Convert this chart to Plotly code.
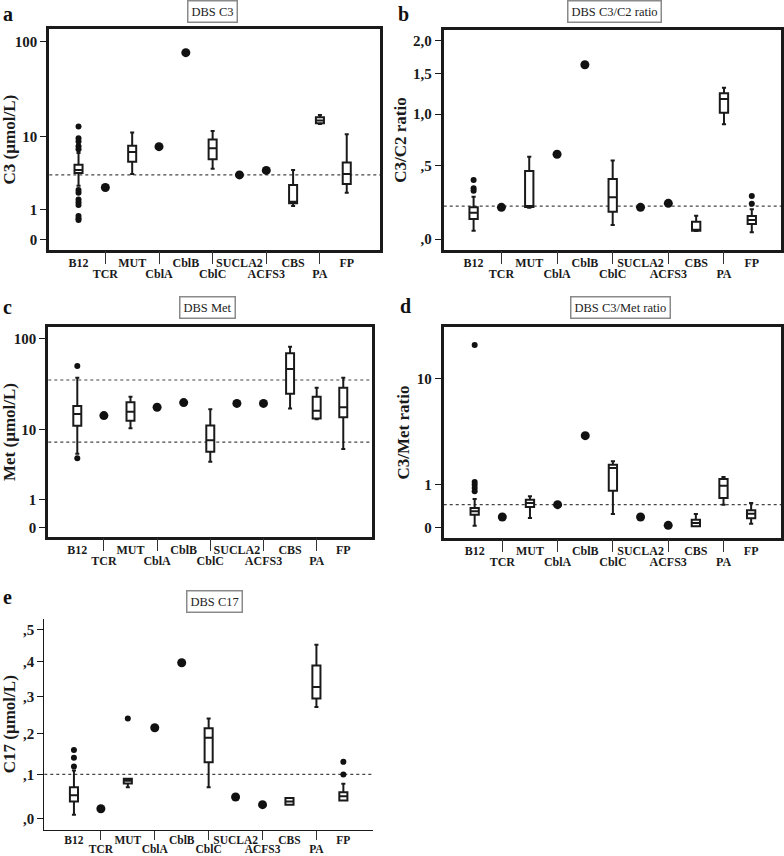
import numpy as np
import plotly.graph_objects as go

# ---------------- data ----------------
categories = ["B12", "TCR", "MUT", "CblA", "CblB", "CblC", "SUCLA2", "ACFS3", "CBS", "PA", "FP"]
box_groups = ["B12", "MUT", "CblC", "CBS", "PA", "FP"]

# a: DBS C3 (umol/L)
c3_low = [2.5, 3.6, 4.2, 1.18, 13.8, 1.97]
c3_q1 = [3.7, 5.1, 5.5, 1.32, 14.0, 2.64]
c3_med = [4.05, 6.7, 7.4, 1.41, 15.0, 3.6]
c3_q3 = [4.7, 7.9, 9.3, 2.56, 16.3, 5.0]
c3_high = [6.5, 11.1, 11.5, 4.05, 17.2, 10.6]
c3_pt_cat = ["B12"] * 13 + ["TCR", "CblA", "CblB", "SUCLA2", "ACFS3"]
c3_pt_val = [12.9, 9.6, 8.8, 7.8, 7.2, 2.16, 1.97, 1.54, 1.37, 1.23, 0.72, 0.63, 0.57,
             2.35, 7.7, 77.0, 3.5, 4.0]
c3_cutoff = [3.5]
c3_ticks = [0, 1, 10, 100]
c3_ticktext = ["0", "1", "10", "100"]

# b: DBS C3/C2 ratio
c3c2_low = [0.047, 0.19, 0.081, 0.045, 0.889, 0.038]
c3c2_q1 = [0.117, 0.195, 0.164, 0.047, 1.016, 0.087]
c3c2_med = [0.157, 0.2, 0.26, 0.05, 1.175, 0.111]
c3c2_q3 = [0.192, 0.458, 0.395, 0.101, 1.244, 0.136]
c3c2_high = [0.265, 0.579, 0.545, 0.138, 1.316, 0.179]
c3c2_pt_cat = ["B12", "B12", "B12", "TCR", "CblA", "CblB", "SUCLA2", "ACFS3", "FP", "FP"]
c3c2_pt_val = [0.387, 0.325, 0.307, 0.192, 0.60, 1.63, 0.192, 0.219, 0.269, 0.216]
c3c2_cutoff = [0.2]
c3c2_ticks = [0, 0.5, 1.0, 1.5, 2.0]
c3c2_ticktext = [",0", ",5", "1,0", "1,5", "2,0"]

# c: DBS Met (umol/L)
met_low = [5.1, 10.35, 4.0, 17.4, 13.2, 5.85]
met_q1 = [11.1, 12.7, 5.4, 25.5, 13.4, 13.9]
met_med = [15.1, 16.0, 7.5, 47.5, 16.5, 18.0]
met_q3 = [18.6, 20.5, 11.2, 70.0, 23.6, 29.7]
met_high = [38.2, 23.6, 17.1, 82.7, 29.7, 38.2]
met_pt_cat = ["B12", "B12", "TCR", "CblA", "CblB", "SUCLA2", "ACFS3"]
met_pt_val = [51.0, 4.45, 14.5, 18.0, 20.3, 19.9, 19.9]
met_cutoff = [7.1, 36.0]
met_ticks = [0, 1, 10, 100]
met_ticktext = ["0", "1", "10", "100"]

# d: DBS C3/Met ratio
c3met_low = [0.027, 0.162, 0.24, 0.016, 0.441, 0.061]
c3met_q1 = [0.227, 0.388, 0.806, 0.016, 0.606, 0.156]
c3met_med = [0.294, 0.48, 1.604, 0.072, 0.958, 0.247]
c3met_q3 = [0.366, 0.563, 1.748, 0.132, 1.181, 0.316]
c3met_high = [0.58, 0.649, 1.9, 0.24, 1.253, 0.48]
c3met_pt_cat = ["B12"] * 5 + ["TCR", "CblA", "CblB", "SUCLA2", "ACFS3"]
c3met_pt_val = [17.9, 1.08, 0.99, 0.887, 0.788, 0.181, 0.441, 3.385, 0.181, 0.033]
c3met_cutoff = [0.44]
c3met_ticks = [0, 1, 10]
c3met_ticktext = ["0", "1", "10"]

# e: DBS C17 (umol/L)
c17_low = [0.009, 0.07, 0.07, 0.031, 0.271, 0.04]
c17_q1 = [0.038, 0.079, 0.129, 0.031, 0.294, 0.04]
c17_med = [0.052, 0.085, 0.19, 0.038, 0.3265, 0.0495]
c17_q3 = [0.070, 0.0897, 0.214, 0.046, 0.389, 0.0585]
c17_high = [0.109, 0.0897, 0.24, 0.046, 0.452, 0.078]
c17_pt_cat = ["B12", "B12", "B12", "TCR", "MUT", "CblA", "CblB", "SUCLA2", "ACFS3", "FP", "FP"]
c17_pt_val = [0.159, 0.14, 0.119, 0.022, 0.24, 0.2155, 0.397, 0.048, 0.031, 0.13, 0.1]
c17_cutoff = [0.1]
c17_ticks = [0, 0.1, 0.2, 0.3, 0.4, 0.5]
c17_ticktext = [",0", ",1", ",2", ",3", ",4", ",5"]

titles = ["DBS C3", "DBS C3/C2 ratio", "DBS Met", "DBS C3/Met ratio", "DBS C17"]
ytitles = ["C3 (µmol/L)", "C3/C2 ratio", "Met (µmol/L)", "C3/Met ratio", "C17 (µmol/L)"]
letters = ["a", "b", "c", "d", "e"]

# ---------------- layout geometry (pixels) ----------------
W, H = 784, 856
FONT = "Liberation Serif"


def tr(v):
    """SPSS-like log10(x+1) axis transform."""
    return np.log10(np.asarray(v, dtype=float) + 1.0)


panels = [
    dict(low=c3_low, q1=c3_q1, med=c3_med, q3=c3_q3, high=c3_high, pc=c3_pt_cat, pv=c3_pt_val,
         cut=c3_cutoff, ticks=c3_ticks, tt=c3_ticktext,
         px=(49.3, 380), py=(29.3, 250), xr=(-1.09, 11.24), yr=(-0.108, 2.129), frame=True,
         title_c=(212, 11.5), letter_c=(8, 14), tlen=13, xfs=12),
    dict(low=c3c2_low, q1=c3c2_q1, med=c3c2_med, q3=c3c2_q3, high=c3c2_high, pc=c3c2_pt_cat, pv=c3c2_pt_val,
         cut=c3c2_cutoff, ticks=c3c2_ticks, tt=c3c2_ticktext,
         px=(443.7, 781), py=(30, 250), xr=(-1.075, 11.05), yr=(-0.0265, 0.5036), frame=True,
         title_c=(614, 12), letter_c=(404, 14), tlen=13, xfs=12),
    dict(low=met_low, q1=met_q1, med=met_med, q3=met_q3, high=met_high, pc=met_pt_cat, pv=met_pt_val,
         cut=met_cutoff, ticks=met_ticks, tt=met_ticktext,
         px=(48.3, 372), py=(327.3, 536.7), xr=(-1.09, 11.08), yr=(-0.0956, 2.128), frame=True,
         title_c=(207.5, 307.5), letter_c=(7, 307), tlen=13, xfs=12),
    dict(low=c3met_low, q1=c3met_q1, med=c3met_med, q3=c3met_q3, high=c3met_high, pc=c3met_pt_cat,
         pv=c3met_pt_val, cut=c3met_cutoff, ticks=c3met_ticks, tt=c3met_ticktext,
         px=(443.7, 781), py=(327, 538), xr=(-1.12, 11.08), yr=(-0.0747, 1.403), frame=True,
         title_c=(620, 307.5), letter_c=(405, 306), tlen=13, xfs=12),
    dict(low=c17_low, q1=c17_q1, med=c17_med, q3=c17_q3, high=c17_high, pc=c17_pt_cat, pv=c17_pt_val,
         cut=c17_cutoff, ticks=c17_ticks, tt=c17_ticktext,
         px=(44.3, 373), py=(619, 829.5), xr=(-1.10, 11.1), yr=(-0.00987, 0.1859), frame=False,
         title_c=(214.5, 601), letter_c=(7, 597), tlen=9, xfs=11.5),
]

pos = {c: i for i, c in enumerate(categories)}
upper_idx = [i for i in range(len(categories)) if i % 2 == 0]
lower_idx = [i for i in range(len(categories)) if i % 2 == 1]

fig = go.Figure()
layout = dict(
    template="none",
    width=W, height=H, margin=dict(l=0, r=0, t=0, b=0, autoexpand=False),
    paper_bgcolor="white", plot_bgcolor="white", showlegend=False,
    font=dict(family=FONT, color="black"),
)
annotations = []
shapes = []

for k, p in enumerate(panels):
    xa_main = 2 * k + 1
    xa_sec = 2 * k + 2
    ya = k + 1
    xref = "x" if xa_main == 1 else f"x{xa_main}"
    xref2 = f"x{xa_sec}"
    yref = "y" if ya == 1 else f"y{ya}"

    bx = [pos[c] for c in box_groups]
    fig.add_trace(go.Box(
        x=bx, q1=tr(p["q1"]), median=tr(p["med"]), q3=tr(p["q3"]),
        lowerfence=tr(p["low"]), upperfence=tr(p["high"]),
        width=0.3, whiskerwidth=0.5, fillcolor="white",
        line=dict(color="#1a1a1a", width=2), boxpoints=False,
        xaxis=xref, yaxis=yref, hoverinfo="skip",
    ))
    sizes = [6 if c in box_groups else 9 for c in p["pc"]]
    fig.add_trace(go.Scatter(
        x=[pos[c] for c in p["pc"]], y=tr(p["pv"]), mode="markers",
        marker=dict(color="#111111", size=sizes, opacity=1, line=dict(width=0)),
        xaxis=xref, yaxis=yref, hoverinfo="skip",
    ))
    # invisible carrier trace so the second (staggered-label) x axis is drawn
    fig.add_trace(go.Scatter(
        x=lower_idx, y=[None] * len(lower_idx), mode="markers",
        marker=dict(opacity=0), xaxis=xref2, yaxis=yref, hoverinfo="skip",
    ))
    for cv in p["cut"]:
        shapes.append(dict(type="line", xref=f"{xref} domain", yref=yref, x0=0, x1=1,
                           y0=float(tr(cv)), y1=float(tr(cv)),
                           line=dict(color="#444444", width=1.2, dash="dot"), layer="below"))

    xd = [p["px"][0] / W, p["px"][1] / W]
    yd = [1 - p["py"][1] / H, 1 - p["py"][0] / H]
    lw = 3 if p["frame"] else 1
    axkey_main = "xaxis" if xa_main == 1 else f"xaxis{xa_main}"
    axkey_sec = f"xaxis{xa_sec}"
    aykey = "yaxis" if ya == 1 else f"yaxis{ya}"
    layout[axkey_main] = dict(
        domain=xd, range=list(p["xr"]), anchor=yref, automargin=False,
        tickmode="array", tickvals=upper_idx, ticktext=[categories[i] for i in upper_idx],
        ticks="", showgrid=False, zeroline=False,
        showline=True, linewidth=lw, linecolor="#1a1a1a", mirror=p["frame"],
        tickfont=dict(family=FONT, size=p["xfs"], weight="bold", color="#1a1a1a"),
    )
    layout[axkey_sec] = dict(
        overlaying=xref, anchor=yref, side="bottom", range=list(p["xr"]), automargin=False,
        tickmode="array", tickvals=lower_idx, ticktext=[categories[i] for i in lower_idx],
        ticks="outside", ticklen=p["tlen"], tickwidth=1.2, tickcolor="#333333",
        showgrid=False, zeroline=False, showline=False,
        tickfont=dict(family=FONT, size=p["xfs"], weight="bold", color="#1a1a1a"),
    )
    layout[aykey] = dict(
        domain=yd, range=list(p["yr"]), anchor=xref, automargin=False,
        tickmode="array", tickvals=list(tr(p["ticks"])), ticktext=p["tt"],
        ticks="outside", ticklen=6, tickwidth=1.2, tickcolor="#1a1a1a",
        showgrid=False, zeroline=False,
        showline=True, linewidth=lw, linecolor="#1a1a1a", mirror=p["frame"],
        tickfont=dict(family=FONT, size=15, weight="bold", color="#1a1a1a"),
        title=dict(text=ytitles[k], standoff=3,
                   font=dict(family=FONT, size=17, weight="bold", color="#1a1a1a")),
    )
    annotations.append(dict(
        text=titles[k], xref="paper", yref="paper",
        x=p["title_c"][0] / W, y=1 - p["title_c"][1] / H, xanchor="center", yanchor="middle",
        showarrow=False, font=dict(family=FONT, size=12.5, color="#222222"),
        bordercolor="#8a8a8a", borderwidth=1.5, borderpad=3, bgcolor="white",
    ))
    annotations.append(dict(
        text=f"<b>{letters[k]}</b>", xref="paper", yref="paper",
        x=p["letter_c"][0] / W, y=1 - p["letter_c"][1] / H, xanchor="center", yanchor="middle",
        showarrow=False, font=dict(family=FONT, size=20, color="#111111"),
    ))

layout["annotations"] = annotations
layout["shapes"] = shapes
fig.update_layout(**layout)
fig.write_html("out.html", config={"displayModeBar": False},
               post_script="document.body.style.margin='0px';")
